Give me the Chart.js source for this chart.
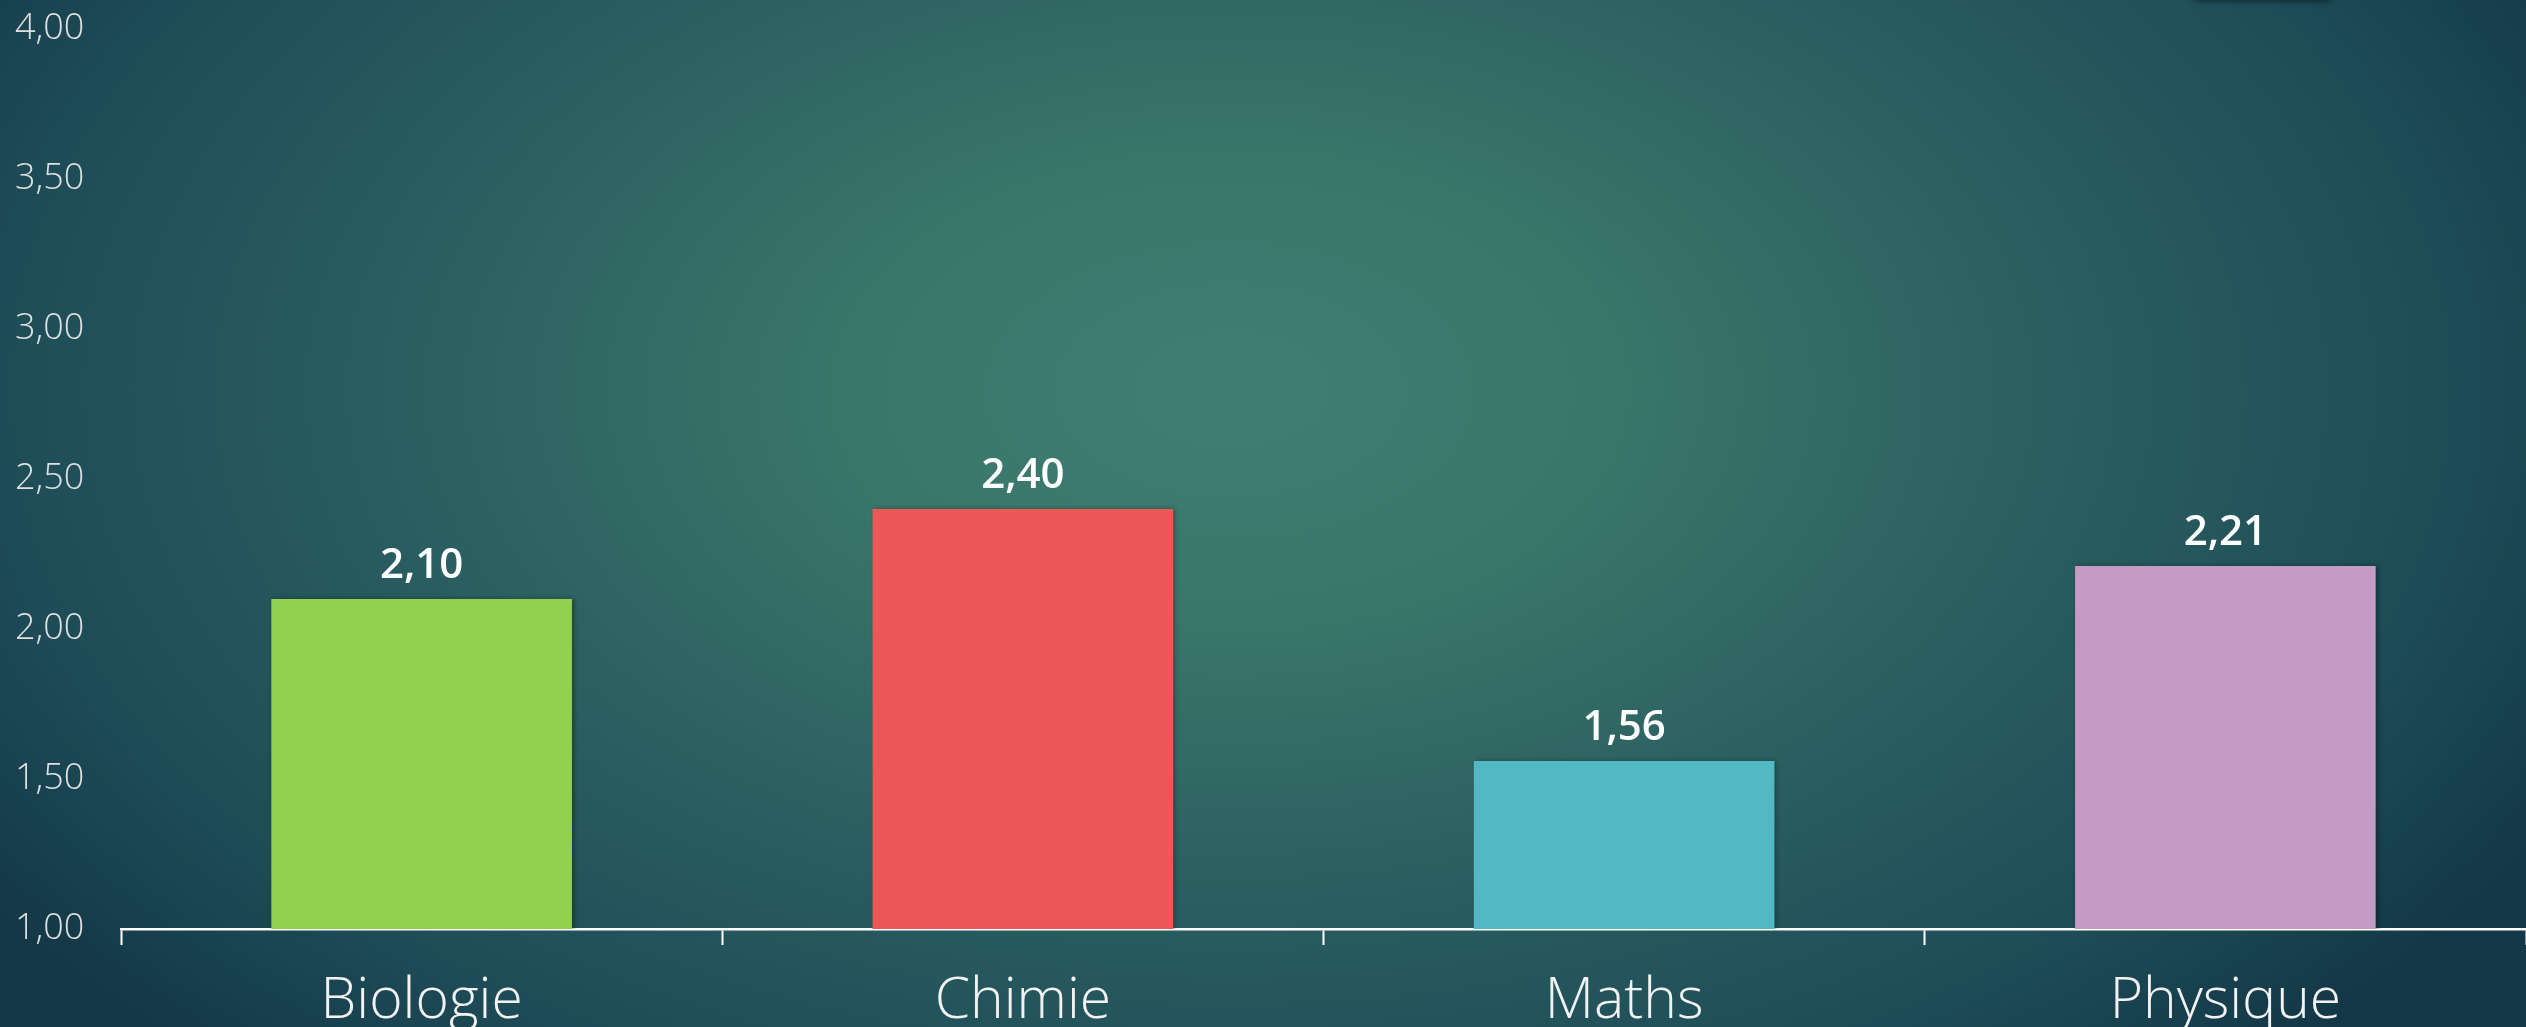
<!DOCTYPE html>
<html>
<head>
<meta charset="utf-8">
<script src="https://cdn.jsdelivr.net/npm/chart.js@4"></script>
<style>
  html, body { margin: 0; padding: 0; background: #173f4d; overflow: hidden; }
  #c { display: block; }
</style>
</head>
<body>
<canvas id="c" width="2526" height="1027"></canvas>
<script>
const categories = ['Biologie', 'Chimie', 'Maths', 'Physique'];
const values = [2.10, 2.40, 1.56, 2.21];
const barColors = ['#92D050', '#EE5757', '#52B9C4', '#C39BC4'];
const yMin = 1, yMax = 4, yStep = 0.5;

const fmt = v => v.toFixed(2).replace('.', ',');

const bgPlugin = {
  id: 'bg',
  beforeDraw(chart) {
    const { ctx, width, height } = chart;
    ctx.save();
    ctx.fillStyle = '#133746';
    ctx.fillRect(0, 0, width, height);
    ctx.translate(1230, 390);
    ctx.scale(1.65, 1);
    const g = ctx.createRadialGradient(0, 0, 0, 0, 0, 920);
    g.addColorStop(0, '#407E73');
    g.addColorStop(0.25, '#3A766A');
    g.addColorStop(0.55, '#2A5E60');
    g.addColorStop(0.8, '#1E4D58');
    g.addColorStop(1, '#133746');
    ctx.fillStyle = g;
    ctx.fillRect(-1300, -1000, 2600, 2000);
    ctx.restore();
    // faint shadow of an object above the top edge (top right)
    ctx.save();
    ctx.shadowColor = 'rgba(0,0,0,0.5)';
    ctx.shadowBlur = 6;
    ctx.shadowOffsetY = 1;
    ctx.fillStyle = '#133544';
    ctx.beginPath();
    ctx.roundRect(2192, -30, 141, 30, 6);
    ctx.fill();
    ctx.restore();
  }
};

const shadowPlugin = {
  id: 'barShadow',
  beforeDatasetsDraw(chart) {
    const ctx = chart.ctx;
    ctx.save();
    ctx.shadowColor = 'rgba(0,0,0,0.35)';
    ctx.shadowBlur = 5;
    ctx.shadowOffsetX = 2;
    ctx.shadowOffsetY = 0;
  },
  afterDatasetsDraw(chart) {
    chart.ctx.restore();
  }
};

const valueLabels = {
  id: 'valueLabels',
  afterDatasetsDraw(chart) {
    const { ctx } = chart;
    const meta = chart.getDatasetMeta(0);
    ctx.save();
    ctx.fillStyle = '#FFFFFF';
    ctx.font = '600 42px "Open Sans"';
    ctx.textAlign = 'center';
    ctx.textBaseline = 'alphabetic';
    meta.data.forEach((bar, i) => {
      ctx.fillText(fmt(values[i]), bar.x, bar.y - 21);
    });
    ctx.restore();
  }
};

new Chart(document.getElementById('c'), {
  type: 'bar',
  data: {
    labels: categories,
    datasets: [{
      data: values,
      backgroundColor: barColors,
      borderWidth: 0,
      barPercentage: 0.5,
      categoryPercentage: 1.0
    }]
  },
  options: {
    responsive: false,
    animation: false,
    devicePixelRatio: 1,
    layout: { padding: { top: 29, left: 15, right: 0, bottom: 0 } },
    plugins: { legend: { display: false }, tooltip: { enabled: false } },
    scales: {
      x: {
        offset: true,
        grid: {
          display: true,
          drawOnChartArea: false,
          drawTicks: true,
          tickLength: 16,
          tickWidth: 2,
          tickColor: '#FFFFFF',
          offset: true
        },
        border: { display: true, color: '#FFFFFF', width: 2.5 },
        ticks: {
          color: '#F2F2F2',
          padding: 23,
          maxRotation: 0,
          font: { family: '"Open Sans"', weight: '300', size: 57 }
        },
        afterFit(scale) { scale.height = 98; }
      },
      y: {
        min: yMin,
        max: yMax,
        grid: { display: false },
        border: { display: false },
        ticks: {
          stepSize: yStep,
          color: '#E0E0E0',
          crossAlign: 'far',
          padding: 0,
          font: { family: '"Open Sans"', weight: '300', size: 36 },
          callback: v => fmt(v)
        },
        afterFit(scale) { scale.width = 106; }
      }
    }
  },
  plugins: [bgPlugin, shadowPlugin, valueLabels]
});
</script>
</body>
</html>
